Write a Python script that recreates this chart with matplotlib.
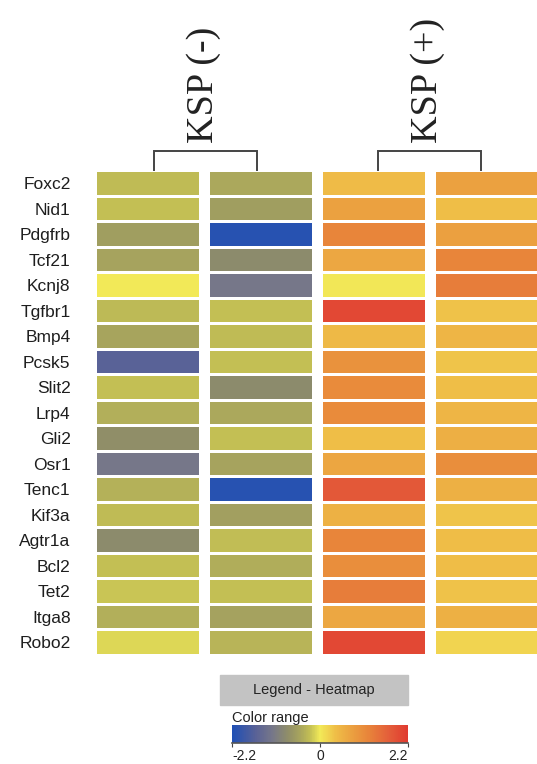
import numpy as np
import matplotlib
matplotlib.use('Agg')
import matplotlib.pyplot as plt
from matplotlib.colors import LinearSegmentedColormap, Normalize
from matplotlib.patches import Rectangle
from matplotlib.cm import ScalarMappable

plt.rcParams['axes.unicode_minus'] = False

# datos
genes = ['Foxc2', 'Nid1', 'Pdgfrb', 'Tcf21', 'Kcnj8', 'Tgfbr1', 'Bmp4', 'Pcsk5',
         'Slit2', 'Lrp4', 'Gli2', 'Osr1', 'Tenc1', 'Kif3a', 'Agtr1a', 'Bcl2',
         'Tet2', 'Itga8', 'Robo2']
ksp_neg_1 = [-0.28, -0.25, -0.60, -0.52, 0.00, -0.30, -0.50, -1.60, -0.25, -0.40,
             -0.80, -1.20, -0.38, -0.28, -0.85, -0.25, -0.22, -0.40, -0.12]
ksp_neg_2 = [-0.48, -0.60, -2.10, -0.85, -1.20, -0.25, -0.28, -0.25, -0.85, -0.47,
             -0.25, -0.52, -2.10, -0.58, -0.26, -0.42, -0.25, -0.55, -0.36]
ksp_pos_1 = [0.42, 0.78, 1.20, 0.70, 0.02, 2.00, 0.45, 1.00, 1.10, 1.10,
             0.38, 0.72, 1.80, 0.55, 1.20, 1.05, 1.30, 0.70, 2.00]
ksp_pos_2 = [0.78, 0.38, 0.80, 1.20, 1.30, 0.36, 0.50, 0.33, 0.38, 0.50,
             0.60, 1.05, 0.58, 0.33, 0.40, 0.40, 0.36, 0.58, 0.20]
columnas = [ksp_neg_1, ksp_neg_2, ksp_pos_1, ksp_pos_2]
grupos = ['KSP (-)', 'KSP (+)']
vmin, vmax = -2.2, 2.2
cbar_ticks = [-2.2, 0, 2.2]
cbar_labels = ['-2.2', '0', '2.2']

# colormap tipo "heatmap" azul-gris-amarillo-naranja-rojo
nodos = [(-2.2, '#1f4fb5'), (-1.6, '#5a6296'), (-1.2, '#767789'), (-0.8, '#908e68'),
         (-0.5, '#a8a55d'), (-0.25, '#c3bf54'), (0.0, '#f2ea58'), (0.4, '#efbd47'),
         (0.8, '#eba040'), (1.2, '#e8853a'), (1.7, '#e4603a'), (2.2, '#e03a30')]
cmap = LinearSegmentedColormap.from_list(
    'hm', [((v - vmin) / (vmax - vmin), c) for v, c in nodos])
norm = Normalize(vmin, vmax)

W, H = 537, 764
fig = plt.figure(figsize=(W / 100, H / 100), dpi=100)

# eje principal, en pixeles
x0, pitch_x = 97, 113
y0, pitch_y = 172, 25.5
n = len(genes)
ax = fig.add_axes([x0 / W, 1 - (y0 + n * pitch_y) / H,
                   4 * pitch_x / W, n * pitch_y / H])
ax.set_xlim(0, 4)
ax.set_ylim(n, 0)
rows = np.arange(n) + 0.45
for i, col in enumerate(columnas):
    ax.barh(rows, 0.9, left=i, height=0.9, color=cmap(norm(np.array(col))),
            edgecolor='none')
for s in ax.spines.values():
    s.set_visible(False)
ax.set_xticks([])
ax.set_yticks(rows)
ax.set_yticklabels(genes, fontsize=12.5, family='Liberation Sans', color='#1e1e1e')
ax.tick_params(axis='y', length=0, pad=19)

# corchetes y titulos de grupo
brackets = [(0.50, 1.42), (2.49, 3.40)]
for (a, b), g in zip(brackets, grupos):
    ax.plot([a, a, b, b], [-0.08, -0.83, -0.83, -0.08], color='#444444', lw=1.4,
            clip_on=False, solid_joinstyle='miter')
    ax.text((a + b) / 2 - 0.02, -1.15, g, rotation=90, ha='center', va='bottom',
            fontsize=27.5, family='Liberation Serif', color='#222222', clip_on=False)

# leyenda
fig.patches.append(Rectangle((220 / W, 1 - 705 / H), 188 / W, 30 / H,
                             transform=fig.transFigure, color='#c3c3c3'))
fig.text(314 / W, 1 - 690 / H, 'Legend - Heatmap', ha='center', va='center',
         fontsize=10.5, family='Liberation Sans', color='#222222')
fig.text(232 / W, 1 - 722 / H, 'Color range', ha='left', va='baseline',
         fontsize=10.5, family='Liberation Sans', color='#222222')
cax = fig.add_axes([232 / W, 1 - 743 / H, 176 / W, 18 / H])
cb = fig.colorbar(ScalarMappable(norm=norm, cmap=cmap), cax=cax,
                  orientation='horizontal', ticks=cbar_ticks)
cb.outline.set_visible(False)
cax.set_xticklabels(cbar_labels, fontsize=10, family='Liberation Sans',
                    color='#222222')
for lab, ha in zip(cax.get_xticklabels(), ['left', 'center', 'right']):
    lab.set_ha(ha)
cax.tick_params(axis='x', length=3, width=0.8, pad=1, color='#444444')
cax.axhline(0, color='#555555', lw=1.2, clip_on=False)

fig.savefig('out.png', dpi=100)
